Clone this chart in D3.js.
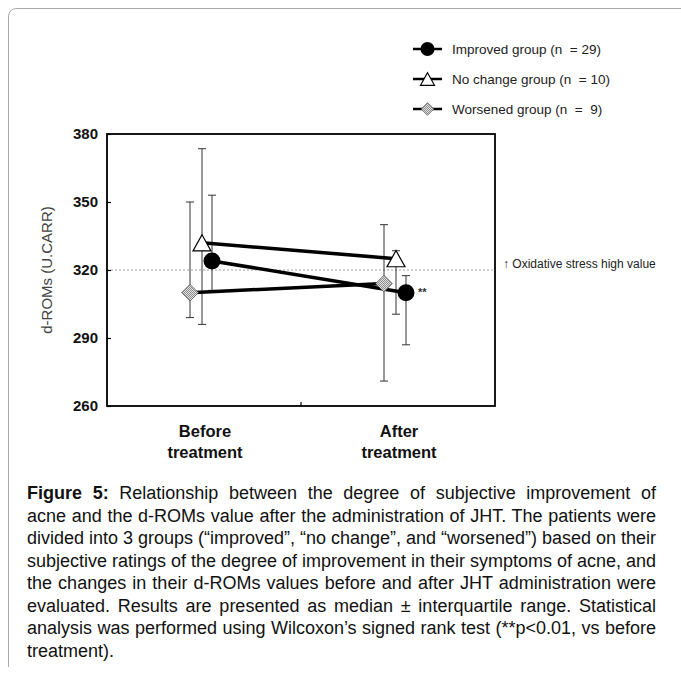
<!DOCTYPE html>
<html lang="en">
<head>
    <meta charset="UTF-8">
    <title>d-ROMs before and after JHT</title>
    <script src="https://d3js.org/d3.v7.min.js"></script>
    <style>
        body { margin: 0; background: #fff; }
        svg { display: block; font-family: "Liberation Sans", Arial, sans-serif; }
    </style>
</head>
<body>
<script>
// values (median and interquartile range)
const phases = ["Before", "After"];
const groups = ["Improved group (n  = 29)", "No change group (n  = 10)", "Worsened group (n  =  9)"];
const symbols = ["circle", "triangle", "diamond"];
const medians = [[324, 310], [332, 325], [310, 314]];
const lowers  = [[311, 287], [296, 300.5], [299, 271]];
const uppers  = [[353, 317.5], [373.5, 328.5], [350, 340]];
const yTicks = [260, 290, 320, 350, 380];
const highValue = 320;

const captionLines = [
    "Relationship between the degree of subjective improvement of",
    "acne and the d-ROMs value after the administration of JHT. The patients were",
    "divided into 3 groups (\u201cimproved\u201d, \u201cno change\u201d, and \u201cworsened\u201d) based on their",
    "subjective ratings of the degree of improvement in their symptoms of acne, and",
    "the changes in their d-ROMs values before and after JHT administration were",
    "evaluated. Results are presented as median \u00b1 interquartile range. Statistical",
    "analysis was performed using Wilcoxon\u2019s signed rank test (**p<0.01, vs before",
    "treatment)."
];

const width = 681, height = 675;
const svg = d3.select("body").append("svg")
    .attr("width", width)
    .attr("height", height);

// page frame, cut at the right and bottom like the source
svg.append("path")
    .attr("d", "M8.5,667 L8.5,17 Q8.5,8.5 17,8.5 L681,8.5")
    .attr("fill", "none")
    .attr("stroke", "#aaa")
    .attr("stroke-width", 1);

const plot = {left: 107, right: 495, top: 134, bottom: 406};

const x = d3.scaleBand().domain(phases).range([plot.left, plot.right]);
const y = d3.scaleLinear().domain([260, 380]).range([plot.bottom, plot.top]);
const offsets = [8, -2, -14];

// diamond fill pattern
const defs = svg.append("defs");
const pat = defs.append("pattern")
    .attr("id", "stipple")
    .attr("width", 2).attr("height", 2)
    .attr("patternUnits", "userSpaceOnUse");
pat.append("rect").attr("width", 2).attr("height", 2).attr("fill", "#e4e4e4");
pat.append("rect").attr("width", 1).attr("height", 1).attr("fill", "#8a8a8a");
pat.append("rect").attr("x", 1).attr("y", 1).attr("width", 1).attr("height", 1).attr("fill", "#8a8a8a");

function drawSymbol(g, type, cx, cy, s) {
    if (type === "circle") {
        g.append("circle").attr("cx", cx).attr("cy", cy).attr("r", s * 0.5)
            .attr("fill", "#000");
    } else if (type === "triangle") {
        const h = s * 0.9;
        g.append("path")
            .attr("d", `M${cx},${cy - h / 2} L${cx + s / 2},${cy + h / 2} L${cx - s / 2},${cy + h / 2} Z`)
            .attr("fill", "#fff").attr("stroke", "#000").attr("stroke-width", 1.2);
    } else {
        const r = s * 0.45;
        g.append("path")
            .attr("d", `M${cx},${cy - r} L${cx + r},${cy} L${cx},${cy + r} L${cx - r},${cy} Z`)
            .attr("fill", "url(#stipple)").attr("stroke", "#555").attr("stroke-width", 0.8);
    }
}

// reference line
svg.append("line")
    .attr("x1", plot.left).attr("x2", plot.right)
    .attr("y1", y(highValue)).attr("y2", y(highValue))
    .attr("stroke", "#888").attr("stroke-width", 0.8)
    .attr("stroke-dasharray", "2,2");

svg.append("text")
    .attr("x", 503).attr("y", y(highValue) - 2)
    .attr("font-size", 12).attr("fill", "#222")
    .text("\u2191 Oxidative stress high value");

// y axis
const yAxis = d3.axisLeft(y).tickValues(yTicks).tickSize(-4).tickPadding(9);
const ya = svg.append("g")
    .attr("transform", `translate(${plot.left},0)`)
    .call(yAxis);
ya.select(".domain").remove();
ya.selectAll("line").attr("stroke", "#000").attr("stroke-width", 1.2);
ya.selectAll("text")
    .attr("font-family", "Liberation Sans, Arial, sans-serif")
    .attr("font-size", 15).attr("font-weight", "bold").attr("fill", "#111");

svg.append("text")
    .attr("transform", `translate(52,${(plot.top + plot.bottom) / 2}) rotate(-90)`)
    .attr("text-anchor", "middle")
    .attr("font-size", 15).attr("fill", "#444")
    .text("d-ROMs (U.CARR)");

// mid tick on x axis
svg.append("line")
    .attr("x1", x("After")).attr("x2", x("After"))
    .attr("y1", plot.bottom).attr("y2", plot.bottom - 4)
    .attr("stroke", "#000").attr("stroke-width", 1.2);

// x labels
phases.forEach(p => {
    const t = svg.append("text")
        .attr("text-anchor", "middle")
        .attr("font-size", 16.5).attr("font-weight", "bold").attr("fill", "#111");
    t.append("tspan").attr("x", x(p) + x.bandwidth() / 2 + 1).attr("y", 437).text(p);
    t.append("tspan").attr("x", x(p) + x.bandwidth() / 2 + 1).attr("y", 458).text("treatment");
});

const px = (gi, pi) => x(phases[pi]) + x.bandwidth() / 2 + offsets[gi];

// error bars
const bars = svg.append("g").attr("stroke", "#333").attr("stroke-width", 1);
groups.forEach((g, gi) => {
    phases.forEach((p, pi) => {
        const cx = px(gi, pi);
        bars.append("line").attr("x1", cx).attr("x2", cx)
            .attr("y1", y(lowers[gi][pi])).attr("y2", y(uppers[gi][pi]));
        [lowers[gi][pi], uppers[gi][pi]].forEach(v => {
            bars.append("line").attr("x1", cx - 4).attr("x2", cx + 4)
                .attr("y1", y(v)).attr("y2", y(v));
        });
    });
});

// connecting lines
const line = d3.line().x(d => d[0]).y(d => d[1]);
groups.forEach((g, gi) => {
    svg.append("path")
        .attr("d", line(phases.map((p, pi) => [px(gi, pi), y(medians[gi][pi])])))
        .attr("fill", "none").attr("stroke", "#000").attr("stroke-width", 3.5);
});

// markers (worsened drawn first, improved on top)
const marks = svg.append("g");
const markSize = [17, 18, 18.5];
[2, 1, 0].forEach(gi => {
    phases.forEach((p, pi) => {
        drawSymbol(marks, symbols[gi], px(gi, pi), y(medians[gi][pi]), markSize[gi]);
    });
});

svg.append("text")
    .attr("x", px(0, 1) + 12).attr("y", y(medians[0][1]) + 3)
    .attr("font-size", 11).attr("font-weight", "bold").attr("fill", "#333")
    .text("**");

// plot frame
svg.append("rect")
    .attr("x", plot.left).attr("y", plot.top)
    .attr("width", plot.right - plot.left).attr("height", plot.bottom - plot.top)
    .attr("fill", "none").attr("stroke", "#000").attr("stroke-width", 1.8);

// legend
const legend = svg.append("g");
groups.forEach((g, gi) => {
    const ly = 49 + gi * 30;
    legend.append("line").attr("x1", 413).attr("x2", 442).attr("y1", ly).attr("y2", ly)
        .attr("stroke", "#000").attr("stroke-width", 2.5);
    drawSymbol(legend, symbols[gi], 427.5, ly, 14);
    legend.append("text")
        .attr("x", 452).attr("y", ly + 4.5)
        .attr("font-size", 13.5).attr("fill", "#222")
        .style("white-space", "pre")
        .text(g);
});

// caption, justified between left and right edges
const capLeft = 27, capRight = 656, capTop = 499, capStep = 22.5;
captionLines.forEach((txt, i) => {
    const t = svg.append("text")
        .attr("x", capLeft).attr("y", capTop + i * capStep)
        .attr("font-size", 18).attr("fill", "#111");
    if (i === 0) {
        t.append("tspan").attr("font-weight", "bold").text("Figure 5:");
        t.append("tspan").text(" " + txt);
    } else {
        t.text(txt);
    }
    if (i < captionLines.length - 1) {
        const full = t.text();
        const spaces = (full.match(/ /g) || []).length;
        const natural = t.node().getComputedTextLength();
        t.style("word-spacing", ((capRight - capLeft - natural) / spaces) + "px");
    }
});
</script>
</body>
</html>
